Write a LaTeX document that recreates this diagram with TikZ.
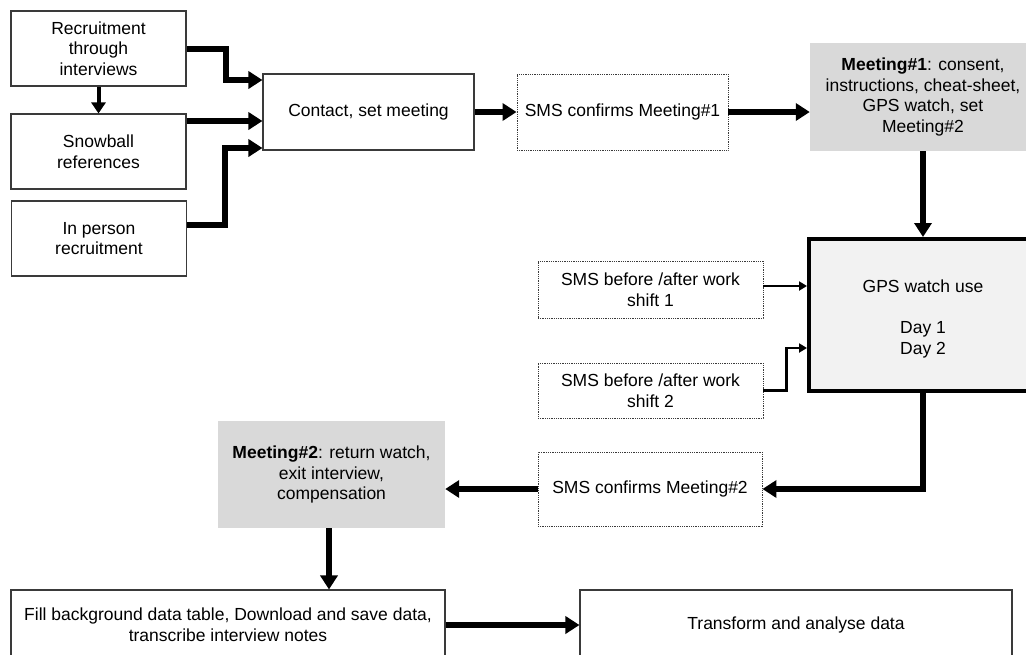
\documentclass[tikz,border=0pt]{standalone}
\usepackage{fontspec}
\setmainfont{Liberation Sans}
\usetikzlibrary{arrows.meta,calc}
\definecolor{boxline}{HTML}{3A3A3A}
\definecolor{meetfill}{HTML}{D9D9D9}
\definecolor{gpsfill}{HTML}{F2F2F2}
\tikzset{
  txt/.style={align=center,inner sep=0pt,font=\fontsize{17.5pt}{20.7pt}\selectfont},
  solidbox/.style={txt,draw=boxline,line width=1.1pt,fill=white},
  dotbox/.style={txt,draw=boxline,line width=0.9pt,dash pattern=on 0.9pt off 0.9pt,fill=white},
  meetbox/.style={txt,fill=meetfill},
  gpsbox/.style={txt,draw=black,line width=4pt,fill=gpsfill},
  bigarrow/.style={line width=6pt,-{Triangle[length=14pt,width=17pt]}},
  midarrow/.style={line width=4pt,-{Triangle[length=11pt,width=14pt]}},
  thinarrow/.style={line width=2.5pt,-{Triangle[length=8pt,width=9pt]}},
}
\begin{document}
\begin{tikzpicture}[x=1pt,y=-1pt]
\useasboundingbox (0,0) rectangle (1026,654);
\clip (0,0) rectangle (1026,654);
\fill[white] (0,0) rectangle (1026,654);

\node[solidbox,minimum width=175pt,minimum height=75pt] (r1) at (98.5,48.5) {Recruitment\\through\\interviews};
\node[solidbox,minimum width=175pt,minimum height=75pt] (snow) at (98.5,151.5) {Snowball\\references};
\node[solidbox,minimum width=175pt,minimum height=75pt] (inp) at (99,238.5) {In person\\recruitment};
\node[solidbox,minimum width=211pt,minimum height=76pt] (contact) at (368.5,112) {Contact, set meeting};
\node[dotbox,minimum width=211pt,minimum height=76pt] (sms1) at (622.5,112) {SMS confirms Meeting\#1};
\node[meetbox,minimum width=226pt,minimum height=108pt] (m1) at (923,97) {\textbf{Meeting\#1}: consent,\\instructions, cheat-sheet,\\GPS watch, set\\Meeting\#2};
\node[gpsbox,minimum width=228pt,minimum height=152pt] (gps) at (923,315) {};
\node[txt] (gpstext) at (923,319) {GPS watch use\\[20.7pt]Day 1\\Day 2};
\node[dotbox,minimum width=225pt,minimum height=57pt] (sh1) at (650.5,289.5) {SMS before /after work\\shift 1};
\node[dotbox,minimum width=225pt,minimum height=55pt] (sh2) at (650.5,390.5) {SMS before /after work\\shift 2};
\node[dotbox,minimum width=224pt,minimum height=74pt] (sms2) at (650,489) {SMS confirms Meeting\#2};
\node[meetbox,minimum width=227pt,minimum height=107pt] (m2) at (331.5,474.5) {\textbf{Meeting\#2}: return watch,\\exit interview,\\compensation};
\node[solidbox,minimum width=434pt,minimum height=70pt] (fill) at (228,625) {Fill background data table, Download and save data,\\transcribe interview notes};
\node[solidbox,minimum width=432pt,minimum height=70pt] (trans) at (796,625) {Transform and analyse data};

\draw[midarrow] (r1.south) -- (snow.north);
\draw[bigarrow] (r1.east) -- ++(39,0) |- ([yshift=32pt]contact.west);
\draw[bigarrow] ([yshift=30.5pt]snow.east) -- ([yshift=-9pt]contact.west);
\draw[bigarrow] ([yshift=13.5pt]inp.east) -- ++(38,0) |- ([yshift=-36pt]contact.west);
\draw[bigarrow] (contact.east) -- (sms1.west);
\draw[bigarrow] (sms1.east) -- (sms1.east -| m1.west);
\draw[bigarrow] (m1.south) -- (gps.north);
\draw[thinarrow] ([yshift=3.5pt]sh1.east) -- ([yshift=3.5pt]sh1.east -| gps.west);
\draw[thinarrow] (sh2.east) -- ++(23,0) |- ([yshift=-33pt]gps.west);
\draw[bigarrow] (gps.south) |- (sms2.east);
\draw[bigarrow] (sms2.west) -- (sms2.west -| m2.east);
\draw[bigarrow] ([xshift=-2.5pt]m2.south) -- ([xshift=-2.5pt]m2.south |- fill.north);
\draw[bigarrow] (fill.east) -- (trans.west);
\end{tikzpicture}
\end{document}
